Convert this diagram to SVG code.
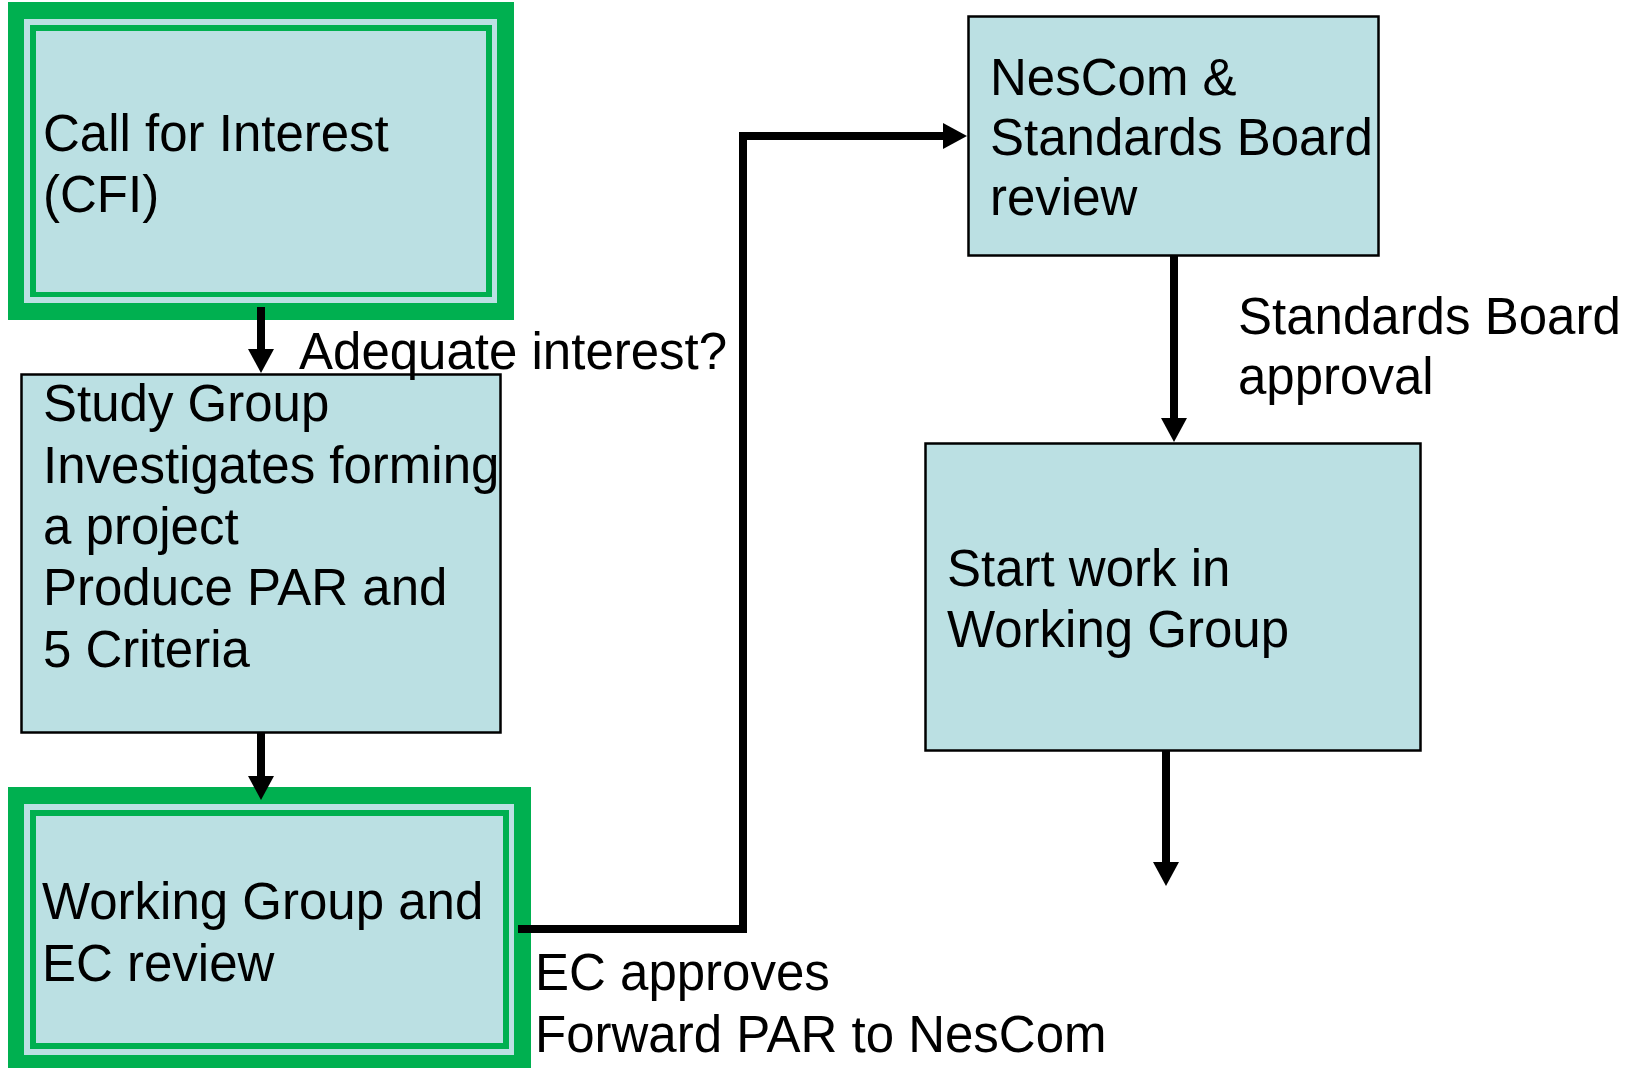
<svg xmlns="http://www.w3.org/2000/svg" width="1627" height="1069" viewBox="0 0 1627 1069">
<style>
text{font-family:"Liberation Sans",Arial,sans-serif;font-size:51px;fill:#000}
.box{fill:#BBE0E3;stroke:#000;stroke-width:2.5}
.g{fill:#00B050}
.lb{fill:#BBE0E3}
.conn{fill:none;stroke:#000;stroke-width:8}
</style>
<defs>
<marker id="ah" markerUnits="userSpaceOnUse" viewBox="0 0 24 26" refX="0" refY="13" markerWidth="24" markerHeight="26" orient="auto">
<path d="M0,0 L24,13 L0,26 z" fill="#000"/>
</marker>
</defs>
<rect width="1627" height="1069" fill="#fff"/>
<g id="cfi">
<rect class="g" x="8" y="2" width="506" height="318"/>
<rect class="lb" x="24" y="19" width="473" height="284"/>
<rect class="g" x="30" y="25" width="462" height="272"/>
<rect class="lb" x="36" y="31" width="450" height="261"/>
<text x="43" y="151">Call for Interest</text>
<text x="43" y="212">(CFI)</text>
</g>
<g id="study">
<rect class="box" x="21.5" y="374.5" width="479" height="358"/>
<text x="43" y="421">Study Group</text>
<text x="43" y="483">Investigates forming</text>
<text x="43" y="544">a project</text>
<text x="43" y="605">Produce PAR and</text>
<text x="43" y="667">5 Criteria</text>
</g>
<g id="wgec">
<rect class="g" x="8" y="787" width="523" height="281"/>
<rect class="lb" x="24" y="804" width="490" height="251"/>
<rect class="g" x="30" y="810" width="479" height="239"/>
<rect class="lb" x="36" y="816" width="467" height="227"/>
<text x="42" y="919">Working Group and</text>
<text x="42" y="981">EC review</text>
</g>
<g id="nescom">
<rect class="box" x="968.5" y="16.5" width="410" height="239"/>
<text x="990" y="95">NesCom &amp;</text>
<text x="990" y="155">Standards Board</text>
<text x="990" y="215">review</text>
</g>
<g id="startwork">
<rect class="box" x="925.5" y="443.5" width="495" height="307"/>
<text x="947" y="586">Start work in</text>
<text x="947" y="647">Working Group</text>
</g>
<g id="connectors">
<path class="conn" d="M261,307 V349" marker-end="url(#ah)"/>
<path class="conn" d="M261,733 V776" marker-end="url(#ah)"/>
<path class="conn" d="M518,929 H743 V136 H943" marker-end="url(#ah)"/>
<path class="conn" d="M1174,256 V418" marker-end="url(#ah)"/>
<path class="conn" d="M1166,751 V862" marker-end="url(#ah)"/>
</g>
<g id="labels">
<text x="299" y="369">Adequate interest?</text>
<text x="535" y="990">EC approves</text>
<text x="535" y="1052">Forward PAR to NesCom</text>
<text x="1238" y="334">Standards Board</text>
<text x="1238" y="394">approval</text>
</g>
</svg>
